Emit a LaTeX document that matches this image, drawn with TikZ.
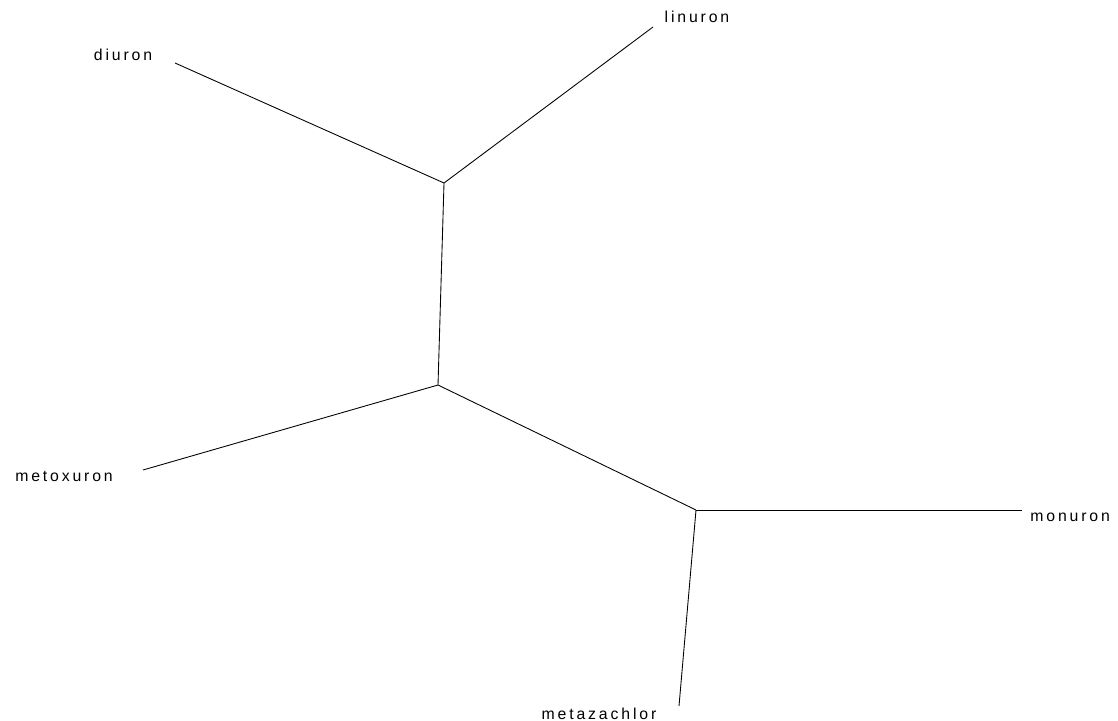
\documentclass[tikz,border=0pt]{standalone}
\usepackage{fontspec}
\setmainfont{Liberation Sans}[LetterSpace=18]
\usetikzlibrary{positioning}

\begin{document}
\begin{tikzpicture}[
  x=0.02cm, y=-0.02cm,
  every node/.style={font=\fontsize{9}{10}\selectfont, inner sep=0pt},
  taxon/.style={anchor=base},
  branch/.style={draw=black, line width=0.5pt}
]
 \useasboundingbox (0,0) rectangle (1118,720);

 % inner nodes of the tree
 \coordinate (n1) at (444,183);
 \coordinate (n2) at (438,385);
 \coordinate (n3) at (696,510);

 % leaf ends
 \coordinate (diu) at (175,63);
 \coordinate (lin) at (653,27);
 \coordinate (met) at (143,470);
 \coordinate (mon) at (1022,510);
 \coordinate (mtz) at (679,706);

 % labels
 \node[taxon] (ldiu) at (123,60)  {diuron};
 \node[taxon] (llin) at (697,22)  {linuron};
 \node[taxon] (lmet) at (64,481)  {metoxuron};
 \node[taxon, anchor=base west] (lmon) at (1030,521) {monuron};
 \node[taxon] (lmtz) at (599,719) {metazachlor};

 % branches
 \draw[branch] (diu) -- (n1); \draw[branch] (lin) -- (n1);
 \draw[branch] (n1) -- (n2);
 \draw[branch] (met) -- (n2); \draw[branch] (n2) -- (n3);
 \draw[branch] (n3) -- (mon); \draw[branch] (n3) -- (mtz);
\end{tikzpicture}
\end{document}
